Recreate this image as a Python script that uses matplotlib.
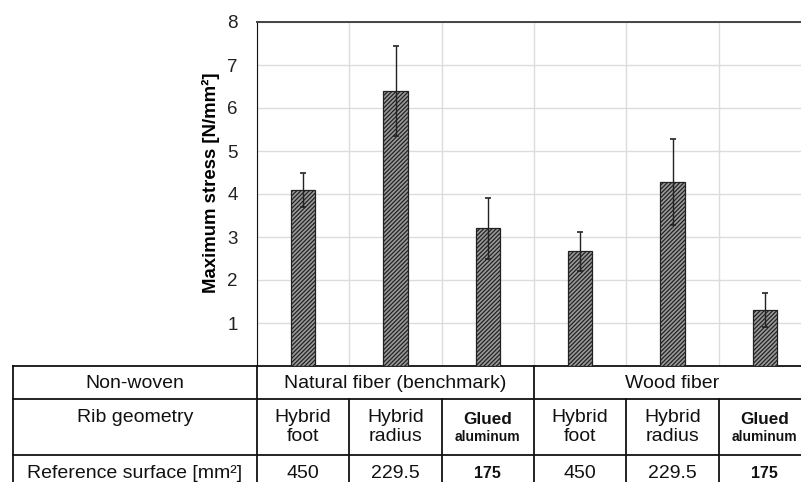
import matplotlib.pyplot as plt
import matplotlib as mpl

plt.rcParams['font.family'] = ['Liberation Sans', 'DejaVu Sans']
mpl.rcParams['hatch.linewidth'] = 0.9
mpl.rcParams['hatch.color'] = '#222222'

# data
stress = [4.1, 6.4, 3.2, 2.67, 4.27, 1.3]
stress_err = [0.4, 1.04, 0.7, 0.45, 1.0, 0.39]
nonwoven = ['Natural fiber (benchmark)', 'Wood fiber']
rib_geometry = ['Hybrid\nfoot', 'Hybrid\nradius', 'Glued', 'Hybrid\nfoot', 'Hybrid\nradius', 'Glued']
ref_surface = ['450', '229.5', '175', '450', '229.5', '175']
glued_cols = [2, 5]

fig = plt.figure(figsize=(8.01, 4.82), dpi=100)
W, H = 801, 482
# axes: x from 257 px to 811 px (partly beyond the figure), y 0 at 366 px, 8 at 22 px
ax = fig.add_axes([257 / W, 1 - 366 / H, (811 - 257) / W, (366 - 22) / H])

x = range(len(stress))
ax.bar([i + 0.5 for i in x], stress, width=0.26, facecolor='#9a9a9a',
       edgecolor='#222222', linewidth=0.9, hatch='////////', zorder=3)
ax.errorbar([i + 0.5 for i in x], stress, yerr=stress_err, fmt='none',
            ecolor='#222222', elinewidth=1, capsize=2.5, capthick=1.2, zorder=4)

ax.set_xlim(0, 6)
ax.set_ylim(0, 8)
ax.set_xticks(range(7))
ax.set_xticklabels([])
ax.set_yticks(range(1, 9))
ax.tick_params(axis='y', length=0, labelsize=13.5, pad=14, colors='#222222')
ax.tick_params(axis='x', length=0)
ax.grid(True, color='#dcdcdc', linewidth=1, zorder=0)
for s in ['bottom', 'right']:
    ax.spines[s].set_visible(False)
ax.spines['left'].set_color('#111111')
ax.spines['top'].set_color('#444444')
ax.spines['top'].set_linewidth(1.4)
ax.set_ylabel('Maximum stress [N/mm²]', fontsize=13.4, fontweight='bold')
ax.yaxis.set_label_coords(-0.066, 0.532)

# table below the axes, drawn in data x units and pixel y positions
px = 554 / 6.0
x_left = (13 - 257) / px

def yd(ypix):
    return (366 - ypix) / 43.0

lw = 1.3
lc = '#111111'
rows = [366, 399, 455, 511]
for r in rows:
    ax.plot([x_left, 6], [yd(r), yd(r)], color=lc, lw=lw, clip_on=False)
ax.plot([x_left, x_left], [yd(366), yd(511)], color=lc, lw=lw, clip_on=False)
ax.plot([0, 0], [yd(366), yd(511)], color=lc, lw=lw, clip_on=False)
ax.plot([3, 3], [yd(366), yd(511)], color=lc, lw=lw, clip_on=False)
for c in [1, 2, 4, 5]:
    ax.plot([c, c], [yd(399), yd(511)], color=lc, lw=lw, clip_on=False)

fs = 14
tc = '#111111'
ax.text(x_left / 2, yd(383), 'Non-woven', ha='center', va='center', fontsize=fs, color=tc)
ax.text(x_left / 2, yd(417), 'Rib geometry', ha='center', va='center', fontsize=fs, color=tc)
ax.text(x_left / 2, yd(473), 'Reference surface [mm²]', ha='center', va='center', fontsize=fs, color=tc)
for k, name in enumerate(nonwoven):
    ax.text(1.5 + 3 * k, yd(383), name, ha='center', va='center', fontsize=fs, color=tc)
for i in x:
    if i in glued_cols:
        ax.text(i + 0.5, yd(419), rib_geometry[i], ha='center', va='center',
                fontsize=12.3, fontweight='bold', color=tc)
        ax.text(i + 0.5, yd(437), 'aluminum', ha='center', va='center',
                fontsize=10, fontweight='bold', color=tc)
        ax.text(i + 0.5, yd(473), ref_surface[i], ha='center', va='center',
                fontsize=11.5, fontweight='bold', color=tc)
    else:
        ax.text(i + 0.5, yd(427), rib_geometry[i], ha='center', va='center',
                fontsize=fs, color=tc, linespacing=1.2)
        ax.text(i + 0.5, yd(473), ref_surface[i], ha='center', va='center',
                fontsize=fs, color=tc)

fig.savefig('out.png', dpi=100)
